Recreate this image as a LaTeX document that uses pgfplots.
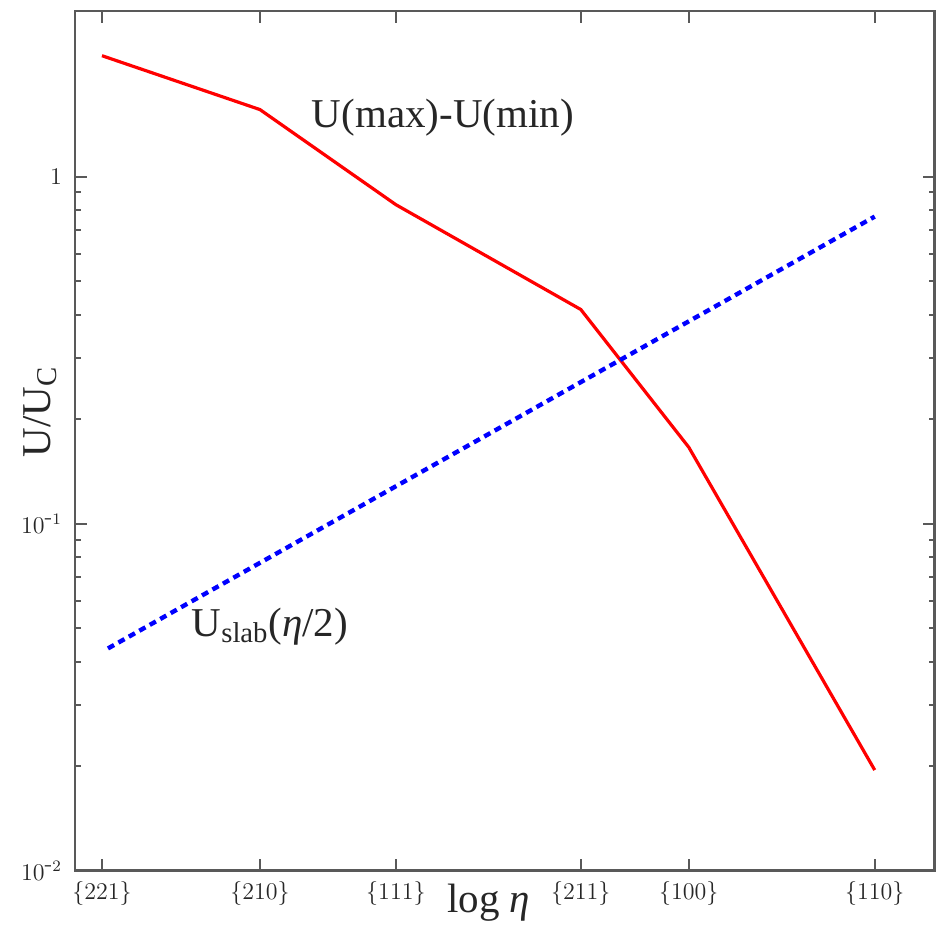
\documentclass[border=0pt]{standalone}
\usepackage{fontspec}
\usepackage{pgfplots}
\pgfplotsset{compat=1.18}
\newfontfamily\lab{Liberation Serif}
\newcommand{\labfont}{\lab\fontsize{20.5}{24}\selectfont}
\begin{document}
\begin{tikzpicture}
\begin{axis}[
  scale only axis,
  width=430pt, height=430pt,
  xmin=75, xmax=935,
  ymode=log, ymin=0.01, ymax=3,
  clip=false,
  axis line style={line width=1.3pt, black!65},
  every tick/.style={black!65, line width=1pt},
  major tick length=6pt, minor tick length=3pt,
  xtick={102,260,396,581,689,875},
  xticklabels={\{221\},\{210\},\{111\},\{211\},\{100\},\{110\}},
  ytick={0.01,0.1,1},
  yticklabels={$10^{\mbox{-}2}$,$10^{\mbox{-}1}$,$1$},
  tick label style={font=\fontsize{12}{14}\selectfont, black!85},
  xticklabel style={yshift=-2pt},
  yticklabel style={xshift=-3pt},
]
\addplot[red, line width=1.6pt] coordinates {
  (102,2.23) (260,1.56) (396,0.83) (581,0.414) (689,0.166) (875,0.0195)
};
\addplot[blue, line width=2.2pt, dash pattern=on 3.5pt off 2.5pt] coordinates {
  (108,0.0437) (875,0.767)
};
\node[font=\labfont, black!85] at (axis cs:443,1.48) {U(max)-U(min)};
\node[font=\labfont, black!85] at (axis cs:270,0.0505) {U\textsubscript{slab}(\textit{η}/2)};
\node[font=\labfont, black!85] at (axis cs:489,0.0081) {log \textit{η}};
\node[font=\labfont, black!85, rotate=90] at (axis cs:40,0.21) {U/U\textsubscript{C}};
\end{axis}
\path (current axis.south west) ++(-37.5pt,-28.5pt) coordinate (bbsw);
\path (current axis.north east) ++(0.5pt,5.5pt) coordinate (bbne);
\useasboundingbox (bbsw) rectangle (bbne);
\end{tikzpicture}
\end{document}
